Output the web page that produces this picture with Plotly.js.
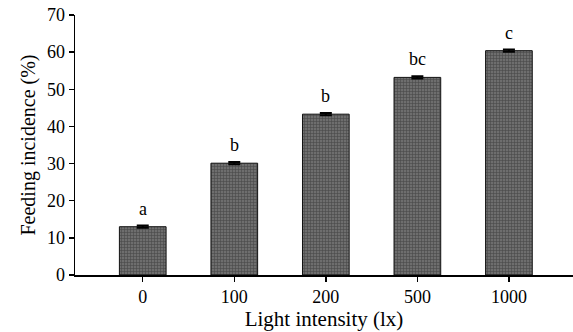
<!DOCTYPE html>
<html>
<head>
<meta charset="utf-8">
<script src="https://cdn.plot.ly/plotly-3.0.1.min.js"></script>
<style>html,body{margin:0;padding:0;background:#fff;}#chart{width:573px;height:332px;}</style>
</head>
<body>
<div id="chart"></div>
<script>
const categories = ["0", "100", "200", "500", "1000"];
const feedingIncidence = [13.0, 30.1, 43.3, 53.2, 60.4];
const errorValues = [0.3, 0.3, 0.3, 0.3, 0.3];
const letters = ["a", "b", "b", "bc", "c"];
const yTicks = [0, 10, 20, 30, 40, 50, 60, 70];

const serif = "Liberation Serif, Times New Roman, serif";

const trace = {
  type: "bar",
  x: categories,
  y: feedingIncidence,
  width: 0.51,
  marker: {
    color: "#5e5e5e",
    line: {color: "#111", width: 1},
    pattern: {shape: "+", bgcolor: "#6e6e6e", fgcolor: "#222", size: 3, solidity: 0.35, fillmode: "overlay"}
  },
  error_y: {type: "data", array: errorValues, visible: true, color: "#000", thickness: 2, width: 6},
  hoverinfo: "none"
};

const annotations = categories.map((c, i) => ({
  x: i, y: feedingIncidence[i] + errorValues[i], xref: "x", yref: "y",
  text: letters[i], showarrow: false, yanchor: "bottom", yshift: 5,
  font: {family: serif, size: 18, color: "#000"}
}));

const layout = {
  width: 573, height: 332,
  margin: {l: 75, r: 0, t: 15, b: 57},
  paper_bgcolor: "#fff", plot_bgcolor: "#fff",
  showlegend: false,
  font: {family: serif, color: "#000"},
  xaxis: {
    type: "category",
    range: [-0.74, 4.70],
    showline: true, linecolor: "#000", linewidth: 1.5,
    ticks: "outside", ticklen: 5, tickwidth: 1.5, tickcolor: "#000",
    tickfont: {family: serif, size: 18, color: "#000"},
    showgrid: false, zeroline: false,
    title: {text: "Light intensity (lx)", font: {family: serif, size: 21, color: "#000"}, standoff: 4}
  },
  yaxis: {
    range: [0, 70],
    tickvals: yTicks,
    showline: true, linecolor: "#000", linewidth: 1.5,
    ticks: "outside", ticklen: 5, tickwidth: 1.5, tickcolor: "#000",
    tickfont: {family: serif, size: 18, color: "#000"},
    showgrid: false, zeroline: false,
    title: {text: "Feeding incidence (%)", font: {family: serif, size: 20, color: "#000"}, standoff: 6}
  },
  annotations: annotations
};

Plotly.newPlot("chart", [trace], layout, {displayModeBar: false, staticPlot: true});
</script>
</body>
</html>
